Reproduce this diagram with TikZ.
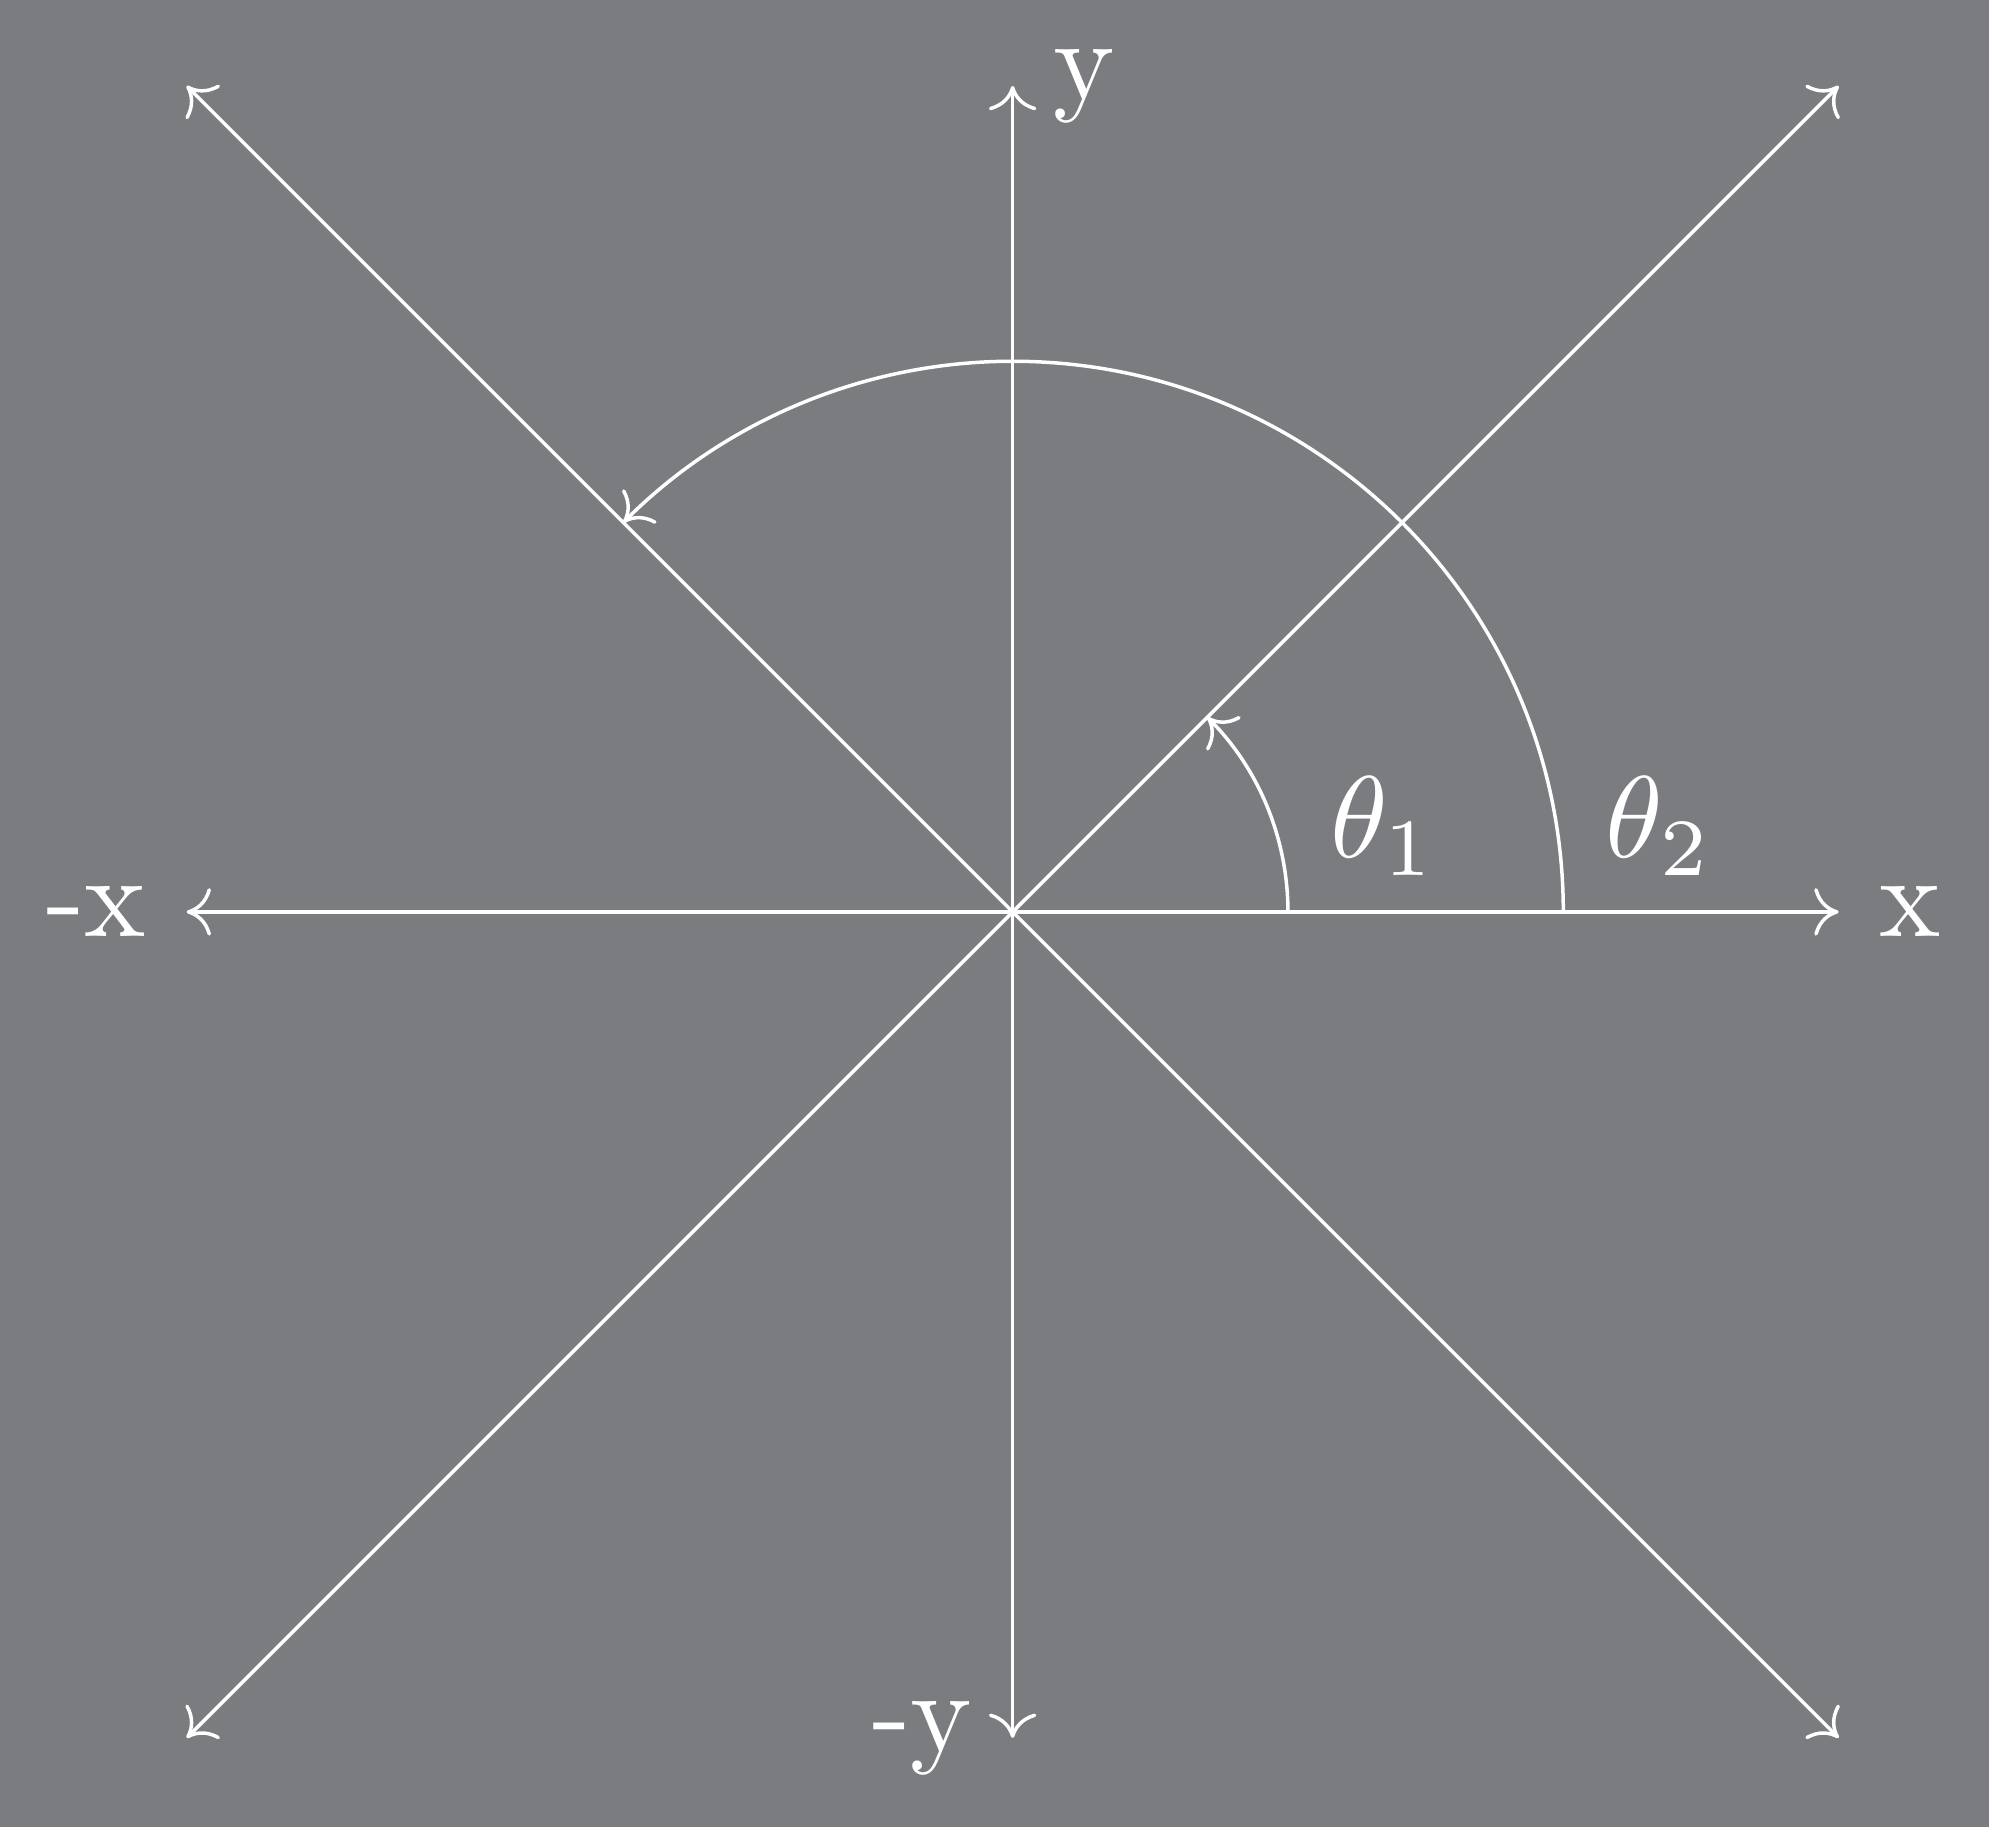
\documentclass[tikz,border=0pt]{standalone}
\usetikzlibrary{arrows.meta}
\definecolor{bggray}{RGB}{122,124,128}
\begin{document}
\begin{tikzpicture}[line width=0.3pt, white,
  tip/.style={-{Computer Modern Rightarrow[width=4.1pt,length=2.1pt]}}]

% Dimensions
\def\L{2.5}      % half length of the axes
\def\ra{0.8333}  % radius of the theta_1 arc
\def\rb{1.6667}  % radius of the theta_2 arc

% Background
\fill[bggray] (-3.065,-2.77) rectangle (2.955,2.76);
\useasboundingbox (-3.065,-2.77) rectangle (2.955,2.76);

% Axes and diagonals
\coordinate (O) at (0,0);
\foreach \name/\dx/\dy in {E/1/0, W/-1/0, N/0/1, S/0/-1, NE/1/1, NW/-1/1, SW/-1/-1, SE/1/-1}
  \coordinate (\name) at (\dx*\L,\dy*\L);
\foreach \name in {E, W, N, S, NE, NW, SW, SE}
  \draw[tip] (O) -- (\name);

\node[right] (xlab) at (E) {x};
\node[left] (mxlab) at (W) {-x};
\node[right] (ylab) at (N) {y};
\node[left] (mylab) at (S) {-y};

% Angles
\draw[tip] (\ra,0) arc[start angle=0, end angle=45, radius=\ra];
\draw[tip] (\rb,0) arc[start angle=0, end angle=135, radius=\rb];
\node (th1) at (\ra+0.29,0.26) {$\theta_1$};
\node (th2) at (\rb+0.29,0.26) {$\theta_2$};
\end{tikzpicture}
\end{document}
